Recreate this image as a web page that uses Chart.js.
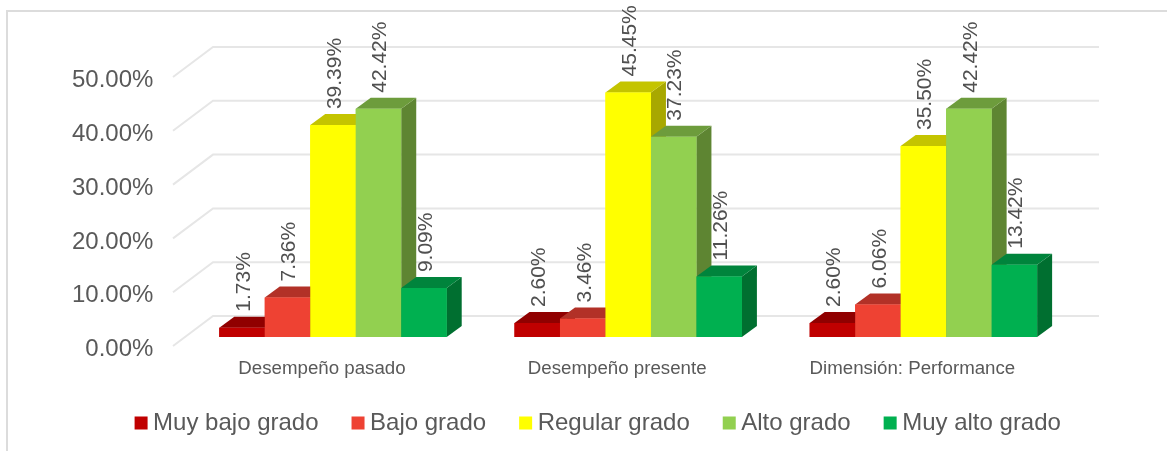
<!DOCTYPE html>
<html><head><meta charset="utf-8">
<style>html,body{margin:0;padding:0;background:#fff;overflow:hidden}#w{position:absolute;left:0;top:0;width:1167px;height:451px}</style>
<script src="https://cdn.jsdelivr.net/npm/chart.js@4"></script>
</head><body><div id="w"><canvas id="c" width="1167" height="451"></canvas></div>
<script>
const categories = ["Desempeño pasado","Desempeño presente","Dimensión: Performance"];
const seriesNames = ["Muy bajo grado","Bajo grado","Regular grado","Alto grado","Muy alto grado"];
const muyBajo = [1.73,2.60,2.60];
const bajo = [7.36,3.46,6.06];
const regular = [39.39,45.45,35.50];
const alto = [42.42,37.23,42.42];
const muyAlto = [9.09,11.26,13.42];
const frontColors = ["#C00000","#EE4233","#FFFF00","#92D050","#00B050"];
const topColors = ["#900000","#B23127","#C4C400","#6D9C3C","#00843C"];
const sideColors = ["#730000","#8E271F","#A8A800","#5E8532","#006F30"];
const seriesValues = [muyBajo,bajo,regular,alto,muyAlto];
const DX=15, DY=-11;
const font='"Liberation Sans",Arial,sans-serif';
const threeD={
  id:'threeD',
  afterLayout(chart){
    const l=chart.legend;
    l.top=371.5; l.bottom=447; l.left+=65.5; l.right+=65.5;
  },
  beforeDraw(chart){
    const c=chart.ctx, y=chart.scales.y;
    c.save();
    c.strokeStyle='#dcdcdc';c.lineWidth=2;
    c.beginPath();c.moveTo(7,451);c.lineTo(7,11);c.lineTo(1167,11);c.stroke();
    c.strokeStyle='#e6e6e6';c.lineWidth=2;
    y.ticks.forEach(t=>{
      const p=y.getPixelForValue(t.value);
      c.beginPath();c.moveTo(173,p+9);c.lineTo(213,p-21);c.lineTo(1099,p-21);c.stroke();
    });
    c.restore();
  },
  afterDatasetsDraw(chart){
    const c=chart.ctx;
    c.save();
    chart.data.datasets.forEach((d,i)=>{
      chart.getDatasetMeta(i).data.forEach(b=>{
        const l=b.x-b.width/2,r=b.x+b.width/2,t=b.y,bt=b.base;
        c.fillStyle=sideColors[i];
        c.beginPath();c.moveTo(r,t);c.lineTo(r+DX,t+DY);c.lineTo(r+DX,bt+DY);c.lineTo(r,bt);c.closePath();c.fill();
        c.fillStyle=topColors[i];
        c.beginPath();c.moveTo(l,t);c.lineTo(l+DX,t+DY);c.lineTo(r+DX,t+DY);c.lineTo(r,t);c.closePath();c.fill();
        b.draw(c);
      });
    });
    c.fillStyle='#505050';c.font='21px '+font;c.textAlign='left';c.textBaseline='middle';
    chart.data.datasets.forEach((d,i)=>{
      chart.getDatasetMeta(i).data.forEach((b,j)=>{
        c.save();c.translate(b.x+2,b.y+DY-5);c.rotate(-Math.PI/2);
        c.fillText(d.data[j].toFixed(2)+'%',0,0);c.restore();
      });
    });
    c.restore();
  }
};
new Chart(document.getElementById('c'),{
  type:'bar',
  data:{labels:categories,datasets:seriesNames.map((n,i)=>({label:n,data:seriesValues[i],backgroundColor:frontColors[i],categoryPercentage:0.7704,barPercentage:1}))},
  options:{
    responsive:false,animation:false,
    layout:{padding:{top:68,right:96,bottom:-4.5,left:0}},
    scales:{
      x:{grid:{display:false},border:{display:false},
         ticks:{color:'#595959',font:{family:font,size:18.7},padding:13,labelOffset:-11,maxRotation:0},
         afterFit(s){s.height=45;}},
      y:{min:0,max:50,grid:{display:false},border:{display:false},
         ticks:{stepSize:10,color:'#595959',font:{family:font,size:24},padding:24,labelOffset:12.5,callback:v=>v.toFixed(2)+'%'},
         afterFit(s){s.width=185.4;}}
    },
    plugins:{
      tooltip:{enabled:false},
      legend:{position:'bottom',labels:{usePointStyle:true,pointStyle:'rect',boxWidth:0.01,boxHeight:13,padding:39.5,color:'#595959',font:{family:font,size:24}}}
    }
  },
  plugins:[threeD]
});
</script></body></html>
